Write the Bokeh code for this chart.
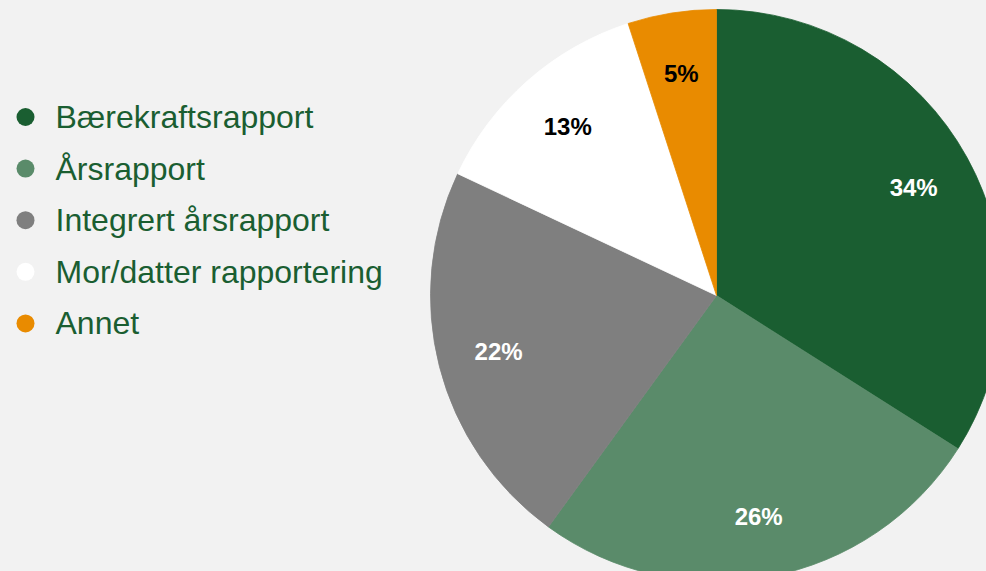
import math
from bokeh.plotting import figure
from bokeh.models import ColumnDataSource, Range1d
from bokeh.core.properties import value
from bokeh.embed import file_html
from bokeh.resources import INLINE

# ---- data ----
categories = ["Bærekraftsrapport", "Årsrapport", "Integrert årsrapport",
              "Mor/datter rapportering", "Annet"]
shares = [34, 26, 22, 13, 5]
labels = ["34%", "26%", "22%", "13%", "5%"]

# ---- styles ----
slice_colors = ["#1a5e31", "#5a8b6a", "#7f7f7f", "#ffffff", "#e98b00"]
label_colors = ["#ffffff", "#ffffff", "#ffffff", "#000000", "#000000"]
text_green = "#1a5e31"
bg = "#f2f2f2"

W, H = 986, 571
# data x = page x, data y = H - page y
p = figure(width=W, height=H, output_backend="svg", toolbar_location=None,
           x_range=Range1d(0, W), y_range=Range1d(0, H),
           min_border=0, outline_line_color=None,
           background_fill_color=bg, border_fill_color=bg)
p.axis.visible = False
p.grid.visible = False

cx, cy, R = 716, H - 295, 286
total = float(sum(shares))
starts, ends, mids = [], [], []
cum = 0.0
for s in shares:
    a0 = math.pi / 2 - 2 * math.pi * cum / total
    cum += s
    a1 = math.pi / 2 - 2 * math.pi * cum / total
    starts.append(a0)
    ends.append(a1)
    mids.append((a0 + a1) / 2)

src = ColumnDataSource(dict(start=starts, end=ends, color=slice_colors))
p.wedge(x=cx, y=cy, radius=R, start_angle="start", end_angle="end",
        direction="clock", fill_color="color", line_color="color",
        line_width=0.8, source=src)

lr = 225
lsrc = ColumnDataSource(dict(
    x=[cx + lr * math.cos(m) for m in mids],
    y=[cy + lr * math.sin(m) for m in mids],
    text=labels, color=label_colors))
p.text(x="x", y="y", text="text", text_color="color", source=lsrc,
       text_font=value("Liberation Sans"), text_font_style="bold",
       text_font_size="24px", text_align="center", text_baseline="middle")

# legend drawn as glyphs
row0, step = 116.5, 51.6
leg_y = [H - (row0 + i * step) for i in range(len(categories))]
p.scatter(x=[25] * len(categories), y=leg_y, size=18, marker="circle",
          fill_color=slice_colors, line_color=None)
p.text(x=[55] * len(categories), y=leg_y, text=categories,
       text_color=text_green, text_font=value("Liberation Sans"),
       text_font_size="32px", text_align="left", text_baseline="middle")

TEMPLATE = """
{% block postamble %}<style>html, body { background: #f2f2f2; }</style>{% endblock %}
"""
open("out.html", "w").write(file_html(p, INLINE, title="Rapportering", template=TEMPLATE))
